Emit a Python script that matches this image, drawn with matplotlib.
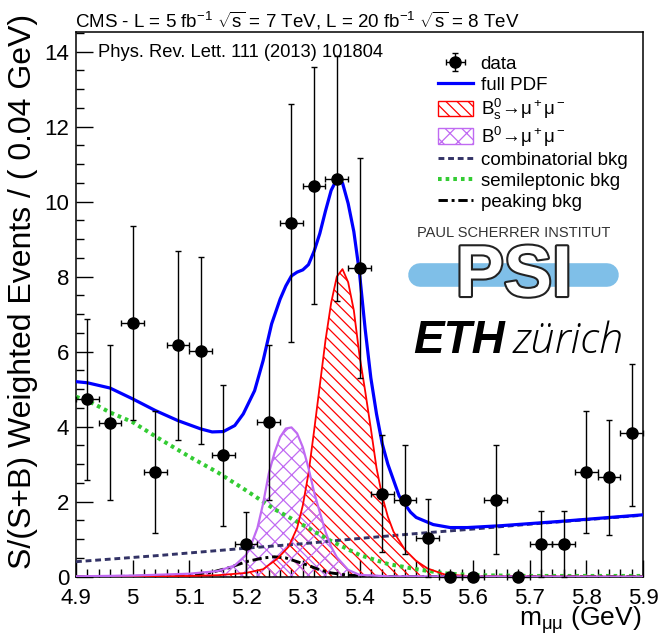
import matplotlib
matplotlib.use('Agg')
import matplotlib.pyplot as plt
import matplotlib.patheffects as pe
from matplotlib.patches import Patch
from matplotlib.lines import Line2D
from matplotlib.ticker import FixedLocator, MultipleLocator

plt.rcParams['font.family'] = ['Liberation Sans', 'DejaVu Sans']
plt.rcParams['mathtext.fontset'] = 'custom'
plt.rcParams['mathtext.rm'] = 'Liberation Sans'
plt.rcParams['mathtext.it'] = 'Liberation Sans:italic'
plt.rcParams['mathtext.bf'] = 'Liberation Sans:bold'
plt.rcParams['hatch.linewidth'] = 0.9

# ---------------- data ----------------
x_data = [4.92, 4.96, 5.00, 5.04, 5.08, 5.12, 5.16, 5.20, 5.24, 5.28, 5.32, 5.36, 5.40,
          5.44, 5.48, 5.52, 5.56, 5.60, 5.64, 5.68, 5.72, 5.76, 5.80, 5.84, 5.88]
y_data = [4.73, 4.10, 6.77, 2.78, 6.18, 6.03, 3.24, 0.87, 4.12, 9.42, 10.42, 10.61, 8.24,
          2.20, 2.05, 1.03, 0.0, 0.0, 2.05, 0.0, 0.87, 0.87, 2.80, 2.65, 3.83]
y_top = [6.87, 6.18, 9.34, 4.43, 8.69, 8.53, 5.10, 1.73, 6.18, 12.60, 13.60, 13.89, 11.15,
         3.77, 3.51, 2.06, 0.0, 0.0, 3.51, 0.0, 1.74, 1.74, 4.43, 4.19, 5.67]
y_bot = [2.59, 2.05, 4.18, 1.17, 3.65, 3.55, 1.36, 0.0, 2.05, 6.27, 7.27, 7.36, 5.30,
         0.65, 0.60, 0.0, 0.0, 0.0, 0.60, 0.0, 0.0, 0.0, 1.17, 1.10, 1.89]
bin_half = 0.02

x_full = [4.90, 4.92, 4.96, 5.00, 5.04, 5.08, 5.12, 5.14, 5.16, 5.18, 5.195, 5.215, 5.23,
          5.245, 5.26, 5.27, 5.28, 5.29, 5.30, 5.31, 5.32, 5.33, 5.34, 5.35, 5.36, 5.37,
          5.38, 5.39, 5.40, 5.41, 5.42, 5.43, 5.44, 5.45, 5.47, 5.49, 5.50, 5.53, 5.56,
          5.59, 5.65, 5.75, 5.90]
y_full = [5.20, 5.17, 5.03, 4.74, 4.43, 4.16, 3.94, 3.86, 3.87, 4.03, 4.34, 4.96, 5.76,
          6.74, 7.40, 7.75, 8.02, 8.12, 8.18, 8.32, 8.68, 9.15, 9.75, 10.30, 10.60, 10.50,
          9.95, 9.20, 8.10, 6.60, 5.30, 4.34, 3.55, 3.00, 2.15, 1.72, 1.58, 1.39, 1.31,
          1.31, 1.36, 1.47, 1.65]

x_bs = [4.90, 5.00, 5.10, 5.15, 5.20, 5.23, 5.255, 5.275, 5.29, 5.30, 5.31, 5.32, 5.33,
        5.34, 5.35, 5.36, 5.37, 5.38, 5.39, 5.40, 5.41, 5.42, 5.43, 5.44, 5.45, 5.46,
        5.48, 5.50, 5.52, 5.55, 5.60, 5.90]
y_bs = [0.0, 0.01, 0.02, 0.04, 0.10, 0.20, 0.48, 0.80, 1.30, 1.90, 2.75, 3.90, 5.10,
        6.30, 7.30, 8.00, 8.20, 7.85, 7.10, 5.90, 4.95, 3.95, 2.90, 2.15, 1.60, 1.20,
        0.72, 0.42, 0.22, 0.06, 0.01, 0.0]

x_b0 = [4.90, 5.00, 5.10, 5.15, 5.18, 5.20, 5.21, 5.22, 5.23, 5.24, 5.25, 5.26, 5.27,
        5.28, 5.29, 5.30, 5.31, 5.32, 5.33, 5.34, 5.35, 5.36, 5.38, 5.40, 5.45, 5.90]
y_b0 = [0.01, 0.03, 0.08, 0.15, 0.30, 0.58, 0.90, 1.30, 1.95, 2.75, 3.30, 3.72, 3.95,
        3.98, 3.82, 3.45, 2.90, 2.25, 1.72, 1.20, 0.80, 0.52, 0.18, 0.05, 0.01, 0.0]

x_comb = [4.90, 5.05, 5.20, 5.30, 5.40, 5.50, 5.60, 5.70, 5.80, 5.90]
y_comb = [0.40, 0.57, 0.76, 0.88, 1.02, 1.15, 1.27, 1.40, 1.52, 1.64]

x_semi = [4.90, 4.93, 4.96, 5.00, 5.05, 5.10, 5.15, 5.20, 5.25, 5.30, 5.35, 5.40, 5.45,
          5.50, 5.55, 5.60, 5.70, 5.90]
y_semi = [4.80, 4.62, 4.38, 4.12, 3.65, 3.20, 2.78, 2.30, 1.80, 1.38, 0.95, 0.58, 0.34,
          0.20, 0.09, 0.04, 0.02, 0.02]

x_peak = [4.90, 5.00, 5.05, 5.10, 5.14, 5.17, 5.20, 5.23, 5.25, 5.27, 5.29, 5.31, 5.33,
          5.35, 5.38, 5.42, 5.50, 5.90]
y_peak = [0.0, 0.01, 0.02, 0.05, 0.12, 0.24, 0.40, 0.50, 0.53, 0.50, 0.40, 0.30, 0.18,
          0.10, 0.04, 0.01, 0.0, 0.0]

xtick_vals = [4.9, 5.0, 5.1, 5.2, 5.3, 5.4, 5.5, 5.6, 5.7, 5.8, 5.9]
xtick_labels = ['4.9', '5', '5.1', '5.2', '5.3', '5.4', '5.5', '5.6', '5.7', '5.8', '5.9']
ytick_vals = [0, 2, 4, 6, 8, 10, 12, 14]
ytick_labels = ['0', '2', '4', '6', '8', '10', '12', '14']

labels = ['data', 'full PDF', r'B$_\mathrm{s}^0$→$\mathrm{\mu^+\mu^-}$',
          r'B$^0$→$\mathrm{\mu^+\mu^-}$', 'combinatorial bkg',
          'semileptonic bkg', 'peaking bkg']

# colours
c_blue = '#0000ff'
c_bs = '#ff0000'
c_b0 = '#c06af2'
c_comb = '#333366'
c_semi = '#33cc33'
c_peak = '#000000'

# ---------------- figure ----------------
W, H = 658, 637
fig = plt.figure(figsize=(W / 100, H / 100), dpi=100)
ax_l, ax_r, ax_t, ax_b = 76, 643, 31.7, 576.7
ax = fig.add_axes([ax_l / W, 1 - ax_b / H, (ax_r - ax_l) / W, (ax_b - ax_t) / H])

def axfx(px):
    return (px - ax_l) / (ax_r - ax_l)

def axfy(py):
    return (ax_b - py) / (ax_b - ax_t)

# signal fills
ax.fill_between(x_bs, y_bs, 0, facecolor='none', edgecolor=c_bs, hatch='\\\\\\', linewidth=0, zorder=2)
ax.fill_between(x_b0, y_b0, 0, facecolor='none', edgecolor=c_b0, hatch='xx', linewidth=0, zorder=2.1)

# background curves
ax.plot(x_comb, y_comb, color=c_comb, lw=2.1, dashes=(2.0, 1.3), zorder=3)
ax.plot(x_semi, y_semi, color=c_semi, lw=2.9, dashes=(0.9, 1.0), zorder=3)
ax.plot(x_peak, y_peak, color=c_peak, lw=2.1, dashes=(3.2, 1.3, 1.0, 1.3), zorder=3)
ax.plot(x_bs, y_bs, color=c_bs, lw=1.3, zorder=3.2)
ax.plot(x_b0, y_b0, color=c_b0, lw=1.6, zorder=3.2)
ax.plot(x_full, y_full, color=c_blue, lw=2.3, zorder=4)

# data
yerr_lo = [y - b if t > 0 else 0 for y, b, t in zip(y_data, y_bot, y_top)]
yerr_hi = [t - y if t > 0 else 0 for y, t in zip(y_data, y_top)]
xerr = [bin_half] * len(x_data)
eb = ax.errorbar(x_data, y_data, yerr=[yerr_lo, yerr_hi], xerr=xerr, fmt='o', color='black',
                 markersize=8, elinewidth=1.0, capsize=2.3, capthick=1.0, zorder=5, clip_on=False)

ax.set_xlim(4.9, 5.9)
ax.set_ylim(0, 14.53)
ax.xaxis.set_major_locator(FixedLocator(xtick_vals))
ax.set_xticklabels(xtick_labels)
ax.xaxis.set_minor_locator(MultipleLocator(0.02))
ax.yaxis.set_major_locator(FixedLocator(ytick_vals))
ax.set_yticklabels(ytick_labels)
ax.yaxis.set_minor_locator(MultipleLocator(0.5))
ax.tick_params(which='both', direction='in', top=False, right=False, width=1.0, labelsize=16)
ax.tick_params(which='major', length=12)
ax.tick_params(which='minor', length=6)
ax.tick_params(axis='x', pad=8)
ax.tick_params(axis='y', pad=5)
for s in ax.spines.values():
    s.set_linewidth(1.1)

ax.set_ylabel('S/(S+B) Weighted Events / ( 0.04 GeV)', fontsize=23, loc='top')
ax.yaxis.set_label_coords(axfx(38), axfy(14))

# x-axis title placed as axes text (right-aligned, baseline)
ax.text(axfx(641), axfy(626), r'm$_{\mathrm{\mu\mu}}$ (GeV)', transform=ax.transAxes,
        fontsize=19, ha='right', va='baseline')

# texts
fig.text(75 / W, 1 - 27.5 / H,
         r'CMS - L = 5 fb$^{-1}$ $\sqrt{\mathrm{s}}$ = 7 TeV, L = 20 fb$^{-1}$ $\sqrt{\mathrm{s}}$ = 8 TeV',
         fontsize=13.5, ha='left', va='baseline')
ax.text(axfx(98.5), axfy(57), 'Phys. Rev. Lett. 111 (2013) 101804', transform=ax.transAxes,
        fontsize=13.2, ha='left', va='baseline')

# legend
h_data = eb
h_full = Line2D([], [], color=c_blue, lw=2.3)
h_bs = Patch(facecolor='none', edgecolor=c_bs, hatch='\\\\\\', lw=1.0)
h_b0 = Patch(facecolor='none', edgecolor=c_b0, hatch='xx', lw=1.0)
h_comb = Line2D([], [], color=c_comb, lw=2.1, dashes=(2.0, 1.3))
h_semi = Line2D([], [], color=c_semi, lw=2.9, dashes=(0.9, 1.0))
h_peak = Line2D([], [], color=c_peak, lw=2.1, dashes=(3.2, 1.3, 1.0, 1.3))
leg = ax.legend([h_data, h_full, h_bs, h_b0, h_comb, h_semi, h_peak], labels,
                loc='upper left', bbox_to_anchor=(axfx(438), axfy(55)), frameon=False,
                fontsize=13.5, handlelength=1.85, handleheight=0.9, handletextpad=0.42,
                labelspacing=0.14, borderpad=0, borderaxespad=0)

# logos (text-based)
ax.text(axfx(513.5), axfy(233), 'PAUL SCHERRER INSTITUT', transform=ax.transAxes,
        fontsize=10.5, ha='center', va='center', color='#333333')
ax.plot([axfx(420), axfx(607)], [axfy(275), axfy(275)], transform=ax.transAxes,
        color='#7fbfe8', lw=17, solid_capstyle='round', zorder=1)
ax.text(axfx(514), axfy(277), 'PSI', transform=ax.transAxes, fontsize=52, fontweight='bold',
        ha='center', va='center', color='white', zorder=1.5,
        path_effects=[pe.withStroke(linewidth=3, foreground='#222222')])
ax.text(axfx(413), axfy(353), 'ETH', transform=ax.transAxes, fontsize=33, fontweight='bold',
        fontstyle='italic', ha='left', va='baseline', color='black')
ax.text(axfx(513), axfy(353), 'zürich', transform=ax.transAxes, fontsize=31,
        fontstyle='italic', ha='left', va='baseline', color='black', family=['Open Sans', 'Liberation Sans'],
        fontweight='light')

fig.savefig('out.png', dpi=100)
